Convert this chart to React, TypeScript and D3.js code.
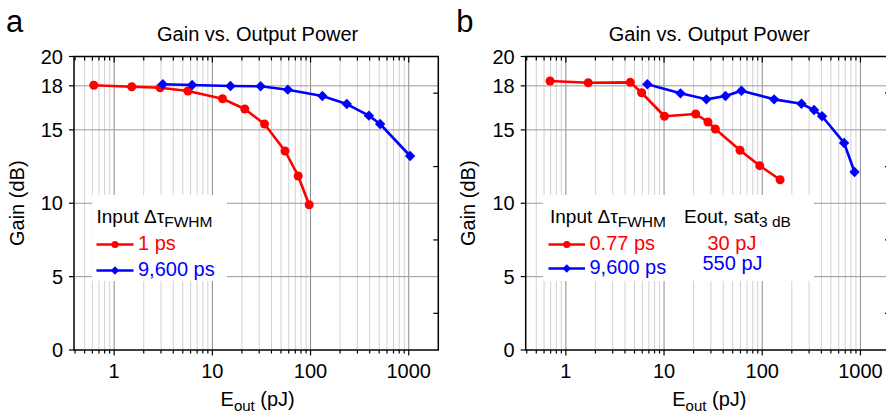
import React from "react";
import * as d3 from "d3";

// ---------- data ----------
const panelLetters = ["a", "b"];
const titleText = "Gain vs. Output Power";

const aShortE = [0.62, 1.51, 2.94, 5.64, 12.7, 21.4, 34, 55, 74.8, 96.8];
const aShortG = [18.04, 17.94, 17.87, 17.65, 17.12, 16.42, 15.4, 13.56, 11.86, 9.9];
const aLongE = [3.13, 6.23, 15.3, 31, 58.7, 132, 234, 393, 511, 1033];
const aLongG = [18.11, 18.06, 17.99, 17.97, 17.74, 17.31, 16.76, 15.97, 15.4, 13.22];

const bShortE = [0.69, 1.69, 4.53, 5.91, 10.1, 21, 28, 33.3, 59.4, 94.3, 152];
const bShortG = [18.33, 18.21, 18.24, 17.53, 15.93, 16.08, 15.54, 15.06, 13.61, 12.56, 11.6];
const bLongE = [6.76, 14.7, 27, 42.2, 61.4, 132, 251, 337, 407, 682, 871];
const bLongG = [18.11, 17.49, 17.08, 17.31, 17.67, 17.08, 16.78, 16.35, 15.93, 14.11, 12.13];

const xMajorTicks = [1, 10, 100, 1000];
const xTickLabels = ["1", "10", "100", "1000"];
const yTicks = [0, 5, 10, 15, 18, 20];
const yGridLines = [5, 10, 15, 18];
const yMinorTicks = [2.5, 7.5, 12.5, 17.5];

const aLegendLabels = ["1 ps", "9,600 ps"];
const bLegendLabels = ["0.77 ps", "9,600 ps"];
const bSatLabels = ["30 pJ", "550 pJ"];

const RED = "#ff0000";
const BLUE = "#0000ff";
const FONT = "'Liberation Sans', Arial, Helvetica, sans-serif";

// ---------- layout ----------
const W = 886;
const H = 413;
const plotLeft = 74;
const plotRight = 438.3;
const plotTop = 56.5;
const plotBottom = 350;
const panelOffset = 451.7;

const x = d3.scaleLog().domain([0.39, 2000]).range([plotLeft, plotRight]);
const y = d3.scaleLinear().domain([0, 20]).range([plotBottom, plotTop]);

const allXTicks = x.ticks().filter((v) => v >= 0.4 && v <= 1000.5);

const diamond = (r: number) => `M0,${-r}L${r},0L0,${r}L${-r},0Z`;

type Series = { e: number[]; g: number[]; color: string; marker: "circle" | "diamond" };

function SeriesMarks({ s }: { s: Series }) {
  const pts: [number, number][] = s.e.map((e, i) => [x(e), y(s.g[i])]);
  const line = d3.line()(pts) || "";
  return (
    <g>
      <path d={line} fill="none" stroke={s.color} strokeWidth={2.6} strokeLinejoin="round" />
      {pts.map(([px, py], i) =>
        s.marker === "circle" ? (
          <circle key={i} cx={px} cy={py} r={4.5} fill={s.color} />
        ) : (
          <path key={i} d={diamond(5.2)} transform={`translate(${px},${py})`} fill={s.color} />
        )
      )}
    </g>
  );
}

function LegendRow({ yRow, color, marker, label, x0, x1, tx }: any) {
  const cx = (x0 + x1) / 2;
  return (
    <g>
      <line x1={x0} x2={x1} y1={yRow} y2={yRow} stroke={color} strokeWidth={2.6} />
      {marker === "circle" ? (
        <circle cx={cx} cy={yRow} r={3.6} fill={color} />
      ) : (
        <path d={diamond(4.2)} transform={`translate(${cx},${yRow})`} fill={color} />
      )}
      <text x={tx} y={yRow + 5} fill={color} fontSize={20}>
        {label}
      </text>
    </g>
  );
}

function Panel({ idx, series }: { idx: number; series: Series[] }) {
  const dx = idx * panelOffset;
  const cxPlot = (plotLeft + plotRight) / 2;
  const cyPlot = (plotTop + plotBottom) / 2;
  return (
    <g transform={`translate(${dx},0)`} fontFamily={FONT}>
      {/* panel letter */}
      <text x={idx === 0 ? 6 : 4.5} y={31.5} fontSize={31}>
        {panelLetters[idx]}
      </text>
      {/* title */}
      <text x={cxPlot + 1.5} y={41} fontSize={20} textAnchor="middle">
        {titleText}
      </text>
      {/* vertical gridlines */}
      {allXTicks
        .filter((v) => v >= 0.45)
        .map((v, i) => {
          const major = xMajorTicks.includes(v);
          return (
            <line
              key={"vg" + i}
              x1={x(v)}
              x2={x(v)}
              y1={plotTop}
              y2={plotBottom}
              stroke={major ? "#8c8c8c" : "#d2d2d2"}
              strokeWidth={1}
            />
          );
        })}
      {/* horizontal gridlines */}
      {yGridLines.map((v) => (
        <line key={"hg" + v} x1={plotLeft} x2={plotRight} y1={y(v)} y2={y(v)} stroke="#9a9a9a" strokeWidth={1} />
      ))}
      {/* right-side inward minor ticks */}
      {yMinorTicks.map((v) => (
        <line key={"rm" + v} x1={plotRight - 5} x2={plotRight} y1={y(v)} y2={y(v)} stroke="#000" strokeWidth={1.2} />
      ))}
      {/* top inward ticks */}
      {allXTicks.map((v, i) => (
        <line
          key={"tt" + i}
          x1={x(v)}
          x2={x(v)}
          y1={plotTop}
          y2={plotTop + (xMajorTicks.includes(v) ? 6 : 4)}
          stroke="#000"
          strokeWidth={1.2}
        />
      ))}
      {/* legend box */}
      {idx === 0 ? (
        <rect x={92} y={195} width={135} height={86} fill="#fff" />
      ) : (
        <rect x={543 - panelOffset} y={195} width={271} height={86} fill="#fff" />
      )}
      {/* data */}
      {series.map((s, i) => (
        <SeriesMarks key={i} s={s} />
      ))}
      {/* frame */}
      <rect
        x={plotLeft}
        y={plotTop}
        width={plotRight - plotLeft}
        height={plotBottom - plotTop}
        fill="none"
        stroke="#000"
        strokeWidth={1.5}
      />
      {/* bottom ticks */}
      {allXTicks.map((v, i) => (
        <line
          key={"bt" + i}
          x1={x(v)}
          x2={x(v)}
          y1={plotBottom}
          y2={plotBottom + (xMajorTicks.includes(v) ? 5.5 : 3.5)}
          stroke="#000"
          strokeWidth={1.2}
        />
      ))}
      {xMajorTicks.map((v, i) => (
        <text key={"xl" + v} x={x(v)} y={378} fontSize={20} textAnchor="middle">
          {xTickLabels[i]}
        </text>
      ))}
      {/* left ticks */}
      {yTicks.map((v) => (
        <g key={"yt" + v}>
          <line x1={plotLeft - 5} x2={plotLeft} y1={y(v)} y2={y(v)} stroke="#000" strokeWidth={1.2} />
          <text x={plotLeft - 11} y={y(v)} dy="0.36em" fontSize={20} textAnchor="end">
            {v}
          </text>
        </g>
      ))}
      {/* axis titles */}
      <text
        transform={`translate(${idx === 0 ? 23.5 : 23},${cyPlot}) rotate(-90)`}
        fontSize={20}
        textAnchor="middle"
      >
        Gain (dB)
      </text>
      <text x={cxPlot + 1.5} y={406} fontSize={20} textAnchor="middle">
        E<tspan fontSize={15} dy={5}>out</tspan>
        <tspan dy={-5}> (pJ)</tspan>
      </text>
      {/* legend */}
      {idx === 0 ? (
        <g>
          <text x={96.5} y={222.5} fontSize={19}>
            Input Δτ<tspan fontSize={15.5} dy={4.5}>FWHM</tspan>
          </text>
          <LegendRow yRow={244.5} color={RED} marker="circle" label={aLegendLabels[0]} x0={96.5} x1={133.5} tx={138} />
          <LegendRow yRow={270.5} color={BLUE} marker="diamond" label={aLegendLabels[1]} x0={96.5} x1={133.5} tx={138} />
        </g>
      ) : (
        <g>
          <text x={550 - panelOffset} y={222.5} fontSize={19}>
            Input Δτ<tspan fontSize={15.5} dy={4.5}>FWHM</tspan>
          </text>
          <text x={684 - panelOffset} y={222.5} fontSize={19}>
            Eout, sat<tspan fontSize={15.5} dy={4.5}>3 dB</tspan>
          </text>
          <LegendRow
            yRow={244.5}
            color={RED}
            marker="circle"
            label={bLegendLabels[0]}
            x0={548.5 - panelOffset}
            x1={585 - panelOffset}
            tx={589.5 - panelOffset}
          />
          <LegendRow
            yRow={268.5}
            color={BLUE}
            marker="diamond"
            label={bLegendLabels[1]}
            x0={548.5 - panelOffset}
            x1={585 - panelOffset}
            tx={589.5 - panelOffset}
          />
          <text x={707.5 - panelOffset} y={250} fill={RED} fontSize={20}>
            {bSatLabels[0]}
          </text>
          <text x={702.5 - panelOffset} y={270} fill={BLUE} fontSize={20}>
            {bSatLabels[1]}
          </text>
        </g>
      )}
    </g>
  );
}

export default function App() {
  const aSeries: Series[] = [
    { e: aShortE, g: aShortG, color: RED, marker: "circle" },
    { e: aLongE, g: aLongG, color: BLUE, marker: "diamond" },
  ];
  const bSeries: Series[] = [
    { e: bShortE, g: bShortG, color: RED, marker: "circle" },
    { e: bLongE, g: bLongG, color: BLUE, marker: "diamond" },
  ];
  return (
    <svg
      width={W}
      height={H}
      viewBox={`0 0 ${W} ${H}`}
      style={{ position: "absolute", left: 0, top: 0, background: "#fff", overflow: "hidden" }}
    >
      <rect x={0} y={0} width={W} height={H} fill="#fff" />
      <Panel idx={0} series={aSeries} />
      <Panel idx={1} series={bSeries} />
    </svg>
  );
}
